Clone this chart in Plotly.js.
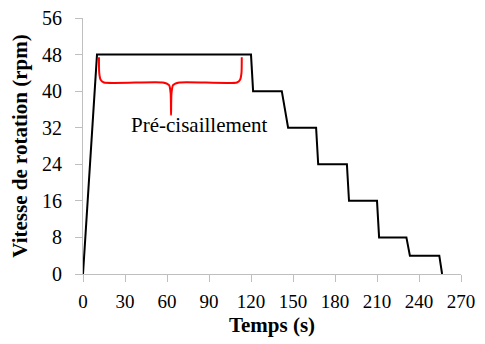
<!DOCTYPE html>
<html>
<head>
<meta charset="utf-8">
<script src="https://cdn.plot.ly/plotly-3.0.1.min.js"></script>
<style>html,body{margin:0;padding:0;background:#fff}#chart{width:485px;height:344px}</style>
</head>
<body>
<div id="chart"></div>
<script>
// Speed profile (s, rpm)
const timeS = [0, 10, 120, 121.5, 142, 146.5, 166.5, 168, 188.5, 190, 210, 211.5, 231, 233.5, 254.5, 256.5];
const speedRpm = [0, 48, 48, 40, 40, 32, 32, 24, 24, 16, 16, 8, 8, 4, 4, 0];
// Brace marking the pre-shear region
const braceX = [11.4, 11.6, 12.6, 15, 57, 61.5, 62.6, 62.9, 63.2, 64.3, 68.8, 110, 112.2, 113.2, 113.4];
const braceY = [47.4, 44, 42.5, 41.9, 41.9, 41.3, 39.5, 34.8, 39.5, 41.3, 41.9, 41.9, 42.5, 44, 47.4];
const labelText = 'Pré-cisaillement';
const labelPos = [83, 32.7];
const xTicks = [0, 30, 60, 90, 120, 150, 180, 210, 240, 270];
const yTicks = [0, 8, 16, 24, 32, 40, 48, 56];

const serif = "Liberation Serif";
const data = [
  {x: timeS, y: speedRpm, mode: 'lines', line: {color: '#000', width: 2}, hoverinfo: 'skip'},
  {x: braceX, y: braceY, mode: 'lines', line: {color: '#ff0000', width: 2, shape: 'spline', smoothing: 0.6}, hoverinfo: 'skip'}
];
function axisCommon(size) {
  return {
    showgrid: false, zeroline: false, showline: true, linecolor: '#bfbfbf', linewidth: 1,
    ticks: 'outside', tickcolor: '#bfbfbf', ticklen: 7, tickwidth: 1,
    tickfont: {family: serif, size: size, color: '#000'}
  };
}
const layout = {
  width: 485, height: 344,
  margin: {l: 83, r: 24, t: 18, b: 70},
  paper_bgcolor: '#fff', plot_bgcolor: '#fff',
  showlegend: false,
  xaxis: Object.assign(axisCommon(19), {
    range: [0, 270], tickvals: xTicks, ticktext: xTicks.map(String), ticklabelstandoff: 3,
    title: {text: '<b>Temps (s)</b>', font: {family: serif, size: 21, color: '#000'}, standoff: 6}
  }),
  yaxis: Object.assign(axisCommon(20), {
    range: [0, 56], tickvals: yTicks, ticktext: yTicks.map(String), ticklabelstandoff: 9,
    title: {text: '<b>Vitesse de rotation (rpm)</b>', font: {family: serif, size: 21, color: '#000'}, standoff: 8}
  }),
  annotations: [{
    x: labelPos[0], y: labelPos[1], xref: 'x', yref: 'y', text: labelText, showarrow: false,
    font: {family: serif, size: 21, color: '#000'}
  }]
};
Plotly.newPlot('chart', data, layout, {staticPlot: true, displayModeBar: false});
</script>
</body>
</html>
